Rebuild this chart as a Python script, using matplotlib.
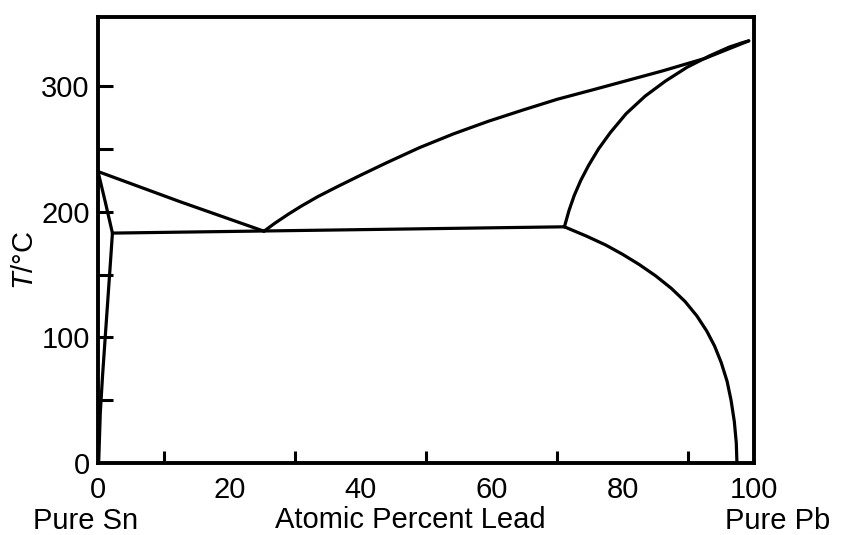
import matplotlib
matplotlib.use("Agg")
import matplotlib.pyplot as plt

plt.rcParams['font.family'] = ['Liberation Sans', 'DejaVu Sans']
plt.rcParams['mathtext.fontset'] = 'custom'
plt.rcParams['mathtext.it'] = 'Liberation Sans:italic'
plt.rcParams['mathtext.rm'] = 'Liberation Sans'

# Sn-Pb phase diagram (atomic % Pb, T in deg C)
liq_sn_x = [0, 12.5, 25.3]
liq_sn_T = [232, 208, 184.5]

liq_pb_x = [25.3, 27, 29, 31, 33.5, 36.5, 40, 44, 49, 54.2, 59.5, 64.8, 70, 75.4, 80.7, 86.0, 92.5, 99.2]
liq_pb_T = [184.5, 191, 198, 204.5, 212, 220, 229, 239, 251, 262, 272, 281, 289.5, 297, 304.5, 312, 322, 336]

sol_pb_x = [71.1, 71.8, 72.6, 73.6, 74.8, 76.3, 78.1, 80.5, 83.4, 86.5, 89.8, 93.2, 96.2, 98.2, 99.2]
sol_pb_T = [188, 201, 213, 225, 237, 250, 263, 278, 292, 304, 315, 324, 331, 334.5, 336]

solvus_pb_x = [71.1, 74.5, 77.4, 80.0, 82.5, 85.0, 87.4, 89.5, 91.3, 92.8, 94.0, 95.0, 95.9, 96.5, 97.0, 97.3, 97.4]
solvus_pb_T = [188, 180.5, 173.5, 166, 158, 149, 139, 128.5, 117, 105, 93, 80, 65, 50, 33, 16, 0]

sol_sn_x = [0, 1.1, 2.2]
sol_sn_T = [232, 208, 183]

solvus_sn_x = [2.2, 1.9, 1.5, 1.1, 0.7, 0.35, 0.1]
solvus_sn_T = [183, 160, 130, 100, 70, 40, 0]

eut_x = [2.2, 71.1]
eut_T = [183, 188]

xticks = [0, 20, 40, 60, 80, 100]
yticks = [0, 100, 200, 300]

fig = plt.figure(figsize=(8.41, 5.35), dpi=100)
ax = fig.add_axes([98 / 841, 72 / 535, 656 / 841, 446 / 535])

lw = 2.3
for xs, ts in [(liq_sn_x, liq_sn_T), (liq_pb_x, liq_pb_T), (sol_pb_x, sol_pb_T),
               (solvus_pb_x, solvus_pb_T), (sol_sn_x, sol_sn_T),
               (solvus_sn_x, solvus_sn_T), (eut_x, eut_T)]:
    ax.plot(xs, ts, color='black', lw=lw, solid_capstyle='round', solid_joinstyle='round')

ax.set_xlim(0, 100)
ax.set_ylim(0, 355)

for s in ax.spines.values():
    s.set_linewidth(2.8)

fs = 21
ax.set_xticks(range(10, 100, 10), minor=True)
ax.set_xticks(xticks)
ax.set_yticks(range(50, 350, 50), minor=True)
ax.set_yticks(yticks)
ax.tick_params(axis='both', which='both', direction='in', width=2.2, labelsize=fs)
ax.tick_params(axis='x', which='minor', length=9)
ax.tick_params(axis='x', which='major', length=0, pad=9)
ax.tick_params(axis='y', which='minor', length=11)
ax.tick_params(axis='y', which='major', length=11, pad=6)
# major ticks at the frame ends are hidden, inner ones drawn
for t in ax.xaxis.get_major_ticks():
    t.tick1line.set_visible(False)
ax.yaxis.get_major_ticks()[0].tick1line.set_visible(False)

ax.set_ylabel(r'$T$/°C', fontsize=fs)
ax.yaxis.set_label_coords(-0.09, 0.455)
ax.set_xlabel('Atomic Percent Lead', fontsize=fs)
ax.xaxis.label.set_va('center')
ax.xaxis.set_label_coords(0.476, -0.128)

ax.annotate('Pure Sn', xy=(0, 0), xycoords=('data', 'axes fraction'),
            xytext=(-9, -42), textcoords='offset points', ha='center', va='center', fontsize=fs)
ax.annotate('Pure Pb', xy=(100, 0), xycoords=('data', 'axes fraction'),
            xytext=(17, -41.5), textcoords='offset points', ha='center', va='center', fontsize=fs)

fig.savefig('out.png', dpi=100)
